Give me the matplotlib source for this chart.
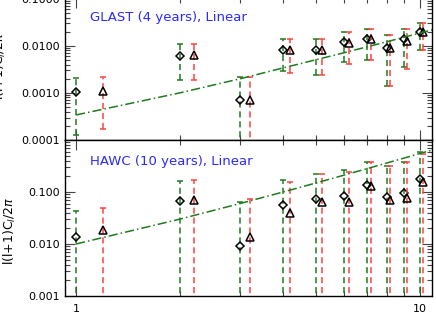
import numpy as np
import matplotlib
matplotlib.use('Agg')
import matplotlib.pyplot as plt
from matplotlib.ticker import FixedLocator, NullFormatter, LogLocator

# multipoles (green diamonds), red triangles are shifted by 0.2
ell = [1, 2, 3, 4, 5, 6, 7, 8, 9, 10]
ell_shift = [1.2, 2.2, 3.2, 4.2, 5.2, 6.2, 7.2, 8.2, 9.2, 10.2]

# GLAST (4 years)
glast_g = [1.06e-3, 6.2e-3, 7.0e-4, 8.3e-3, 8.0e-3, 1.2e-2, 1.37e-2, 9.2e-3, 1.37e-2, 1.96e-2]
glast_g_lo = [1.28e-4, 1.9e-3, 1e-5, 2.86e-3, 2.4e-3, 4.45e-3, 5.0e-3, 1.4e-3, 3.5e-3, 8.0e-3]
glast_g_hi = [2.1e-3, 1.07e-2, 2.2e-3, 1.4e-2, 1.37e-2, 1.96e-2, 2.24e-2, 1.67e-2, 2.24e-2, 3.1e-2]
glast_r = [1.1e-3, 6.4e-3, 7.0e-4, 8.0e-3, 8.0e-3, 1.14e-2, 1.37e-2, 9.0e-3, 1.26e-2, 1.96e-2]
glast_r_lo = [1.7e-4, 1.9e-3, 1e-5, 2.6e-3, 2.4e-3, 4.1e-3, 5.0e-3, 1.4e-3, 3.2e-3, 8.0e-3]
glast_r_hi = [2.2e-3, 1.1e-2, 2.2e-3, 1.4e-2, 1.37e-2, 1.96e-2, 2.24e-2, 1.67e-2, 2.24e-2, 3.1e-2]

# HAWC (10 years)
hawc_g = [0.0138, 0.067, 0.0093, 0.0555, 0.072, 0.083, 0.136, 0.079, 0.094, 0.175]
hawc_g_hi = [0.0437, 0.165, 0.065, 0.17, 0.22, 0.26, 0.37, 0.32, 0.37, 0.58]
hawc_r = [0.0186, 0.07, 0.0138, 0.039, 0.064, 0.064, 0.13, 0.071, 0.076, 0.158]
hawc_r_hi = [0.0486, 0.17, 0.072, 0.154, 0.22, 0.245, 0.37, 0.32, 0.37, 0.54]
hawc_lo = [1e-5] * 10

# linear model curves
ell_model = [1, 2, 3, 4, 5, 6, 7, 8, 9, 10, 11]
glast_model = [3.4e-4, 1.0e-3, 2.0e-3, 3.4e-3, 5.1e-3, 7.1e-3, 9.5e-3, 1.22e-2, 1.53e-2, 1.87e-2, 2.25e-2]
hawc_model = [0.01, 0.03, 0.06, 0.1, 0.15, 0.21, 0.28, 0.36, 0.45, 0.55, 0.66]

green = '#1e7a1e'
red = '#ff4040'
blue = '#2a2aff'
W, H = 436, 312

fig = plt.figure(figsize=(W / 100, H / 100), dpi=100)
left, right = 65 / W, 432 / W
ax1 = fig.add_axes([left, (H - 140) / H, right - left, 142 / H])
ax2 = fig.add_axes([left, (H - 296) / H, right - left, 156 / H])


def draw(ax, yg, glo, ghi, yr, rlo, rhi, ym):
    yg, yr = np.array(yg), np.array(yr)
    for x, y, lo, hi, c, m, ms in [(ell, yg, glo, ghi, green, 'D', 4),
                                   (ell_shift, yr, rlo, rhi, red, '^', 5.5)]:
        err = [y - np.array(lo), np.array(hi) - y]
        eb = ax.errorbar(x, y, yerr=err, fmt='none', ecolor=c, elinewidth=1.1,
                         capsize=2.5, capthick=1.1)
        eb[2][0].set_linestyle((0, (4, 2.5)))
        ax.plot(x, y, m, ms=ms, mfc='none', mec='black', mew=1.1)
    ax.plot(ell_model, ym, color=green, lw=1.1, ls=(0, (6, 2, 1, 2)))
    ax.set_xscale('log')
    ax.set_yscale('log')
    ax.set_xlim(0.929, 10.84)
    ax.xaxis.set_major_locator(FixedLocator([1, 10]))
    ax.xaxis.set_minor_locator(FixedLocator([2, 3, 4, 5, 6, 7, 8, 9]))
    ax.xaxis.set_minor_formatter(NullFormatter())
    ax.yaxis.set_minor_locator(LogLocator(subs=np.arange(2, 10)))
    ax.yaxis.set_minor_formatter(NullFormatter())
    ax.tick_params(which='both', direction='in', top=True, right=True,
                   labelsize=8, color='#444444', width=0.8)
    ax.tick_params(which='major', length=7)
    ax.tick_params(which='minor', length=3.5)
    for s in ax.spines.values():
        s.set_linewidth(1.0)


draw(ax1, glast_g, glast_g_lo, glast_g_hi, glast_r, glast_r_lo, glast_r_hi, glast_model)
ax1.set_ylim(1e-4, 0.104)
ax1.set_yticks([1e-4, 1e-3, 1e-2, 1e-1])
ax1.set_yticklabels(['0.0001', '0.0010', '0.0100', '0.1000'])
ax1.set_xticklabels([])
ax1.text(0.068, 0.86, 'GLAST (4 years), Linear', transform=ax1.transAxes,
         color=blue, fontsize=9.5, va='center')
ax1.set_ylabel(r'l(l+1)C$_l$/2$\pi$', fontsize=9)
ax1.yaxis.set_label_coords(-0.156, 0.52)

draw(ax2, hawc_g, hawc_lo, hawc_g_hi, hawc_r, hawc_lo, hawc_r_hi, hawc_model)
ax2.set_ylim(1e-3, 1)
ax2.set_yticks([1e-3, 1e-2, 1e-1])
ax2.set_yticklabels(['0.001', '0.010', '0.100'])
ax2.set_xticklabels(['1', '10'])
ax2.tick_params(axis='x', pad=6)
ax2.text(0.068, 0.86, 'HAWC (10 years), Linear', transform=ax2.transAxes,
         color=blue, fontsize=9.5, va='center')
ax2.set_ylabel(r'l(l+1)C$_l$/2$\pi$', fontsize=9)
ax2.yaxis.set_label_coords(-0.128, 0.42)

fig.savefig('out.png', dpi=100)
